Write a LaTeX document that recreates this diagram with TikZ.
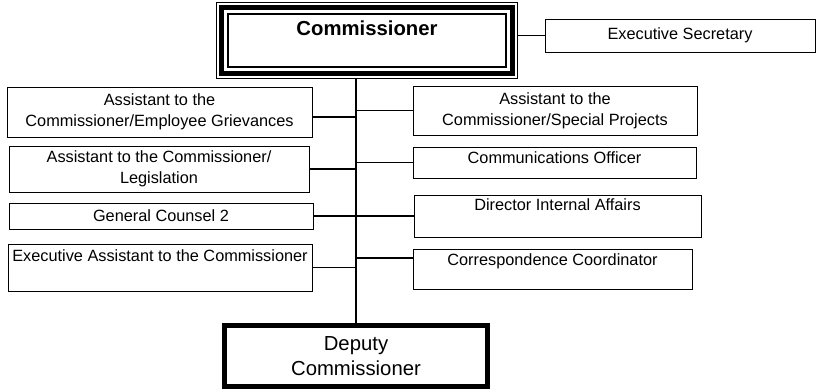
\documentclass[tikz,border=0pt]{standalone}
\usepackage{fontspec}
\setmainfont{Liberation Sans}
\usetikzlibrary{fit}

\tikzstyle{box}=[draw, rectangle, line width=1pt, fill=white, align=center, inner xsep=2pt, font=\fontsize{16.3}{21}\selectfont]
\tikzstyle{bigbox}=[box, font=\fontsize{20.3}{25}\selectfont]
\tikzstyle{link}=[line width=1.2pt]

\begin{document}
\begin{tikzpicture}[x=1pt, y=-1pt]
        \useasboundingbox (0,0) rectangle (817,391);
        \node[bigbox, line width=2pt, minimum width=278, minimum height=53, text depth=25, font=\bfseries\fontsize{20.3}{25}\selectfont] (comm) at (367,40.5) {Commissioner};
        \node[draw, line width=5pt, inner sep=5.5pt, fit=(comm)] (commmid) {};
        \node[draw, line width=1.2pt, inner sep=10.5pt, fit=(comm)] (commframe) {};
        \node[box, minimum width=270, minimum height=33] (sec) at (680,35.5) {Executive Secretary};

	\node[box, minimum width=305, minimum height=50] (left1) at (159.5,112) {Assistant to the\\Commissioner/Employee Grievances};
	\node[box, minimum width=300, minimum height=46] (left2) at (159,169) {Assistant to the Commissioner/\\Legislation};
	\node[box, minimum width=304, minimum height=26] (left3) at (161,216) {General Counsel 2};
	\node[box, minimum width=304, minimum height=47, text depth=23] (left4) at (160,267.5) {Executive Assistant to the Commissioner};

	\node[box, minimum width=284, minimum height=49] (right1) at (555,110.5) {Assistant to the\\Commissioner/Special Projects};
	\node[box, minimum width=283, minimum height=31, text depth=9] (right2) at (554.5,162.5) {Communications Officer};
	\node[box, minimum width=287, minimum height=42, text depth=22] (right3) at (557.5,216) {Director Internal Affairs};
	\node[box, minimum width=279, minimum height=40, text depth=18] (right4) at (552.5,269) {Correspondence Coordinator};

        \node[bigbox, line width=5pt, minimum width=263, minimum height=61] (dep) at (356,356) {Deputy\\Commissioner};

        \draw[link] (dep.north) -- (dep.north |- commframe.south);
        \draw[link] (sec.west -| commframe.east) -- (sec.west);
	\draw[link] ([yshift=-5pt]left1.east) -- ([yshift=-5pt]left1.east -| dep.north);
	\draw[link] (left2.east) -- (left2.east -| dep.north);
	\draw[link] (left3.east) -- (left3.east -| dep.north);
	\draw[link] (left4.east) -- (left4.east -| dep.north);
	\draw[link] (right1.west) -- (right1.west -| dep.north);
	\draw[link] (right2.west) -- (right2.west -| dep.north);
	\draw[link] (right3.west) -- (right3.west -| dep.north);
	\draw[link] ([yshift=11pt]right4.west) -- ([yshift=11pt]right4.west -| dep.north);

      \end{tikzpicture}
\end{document}
